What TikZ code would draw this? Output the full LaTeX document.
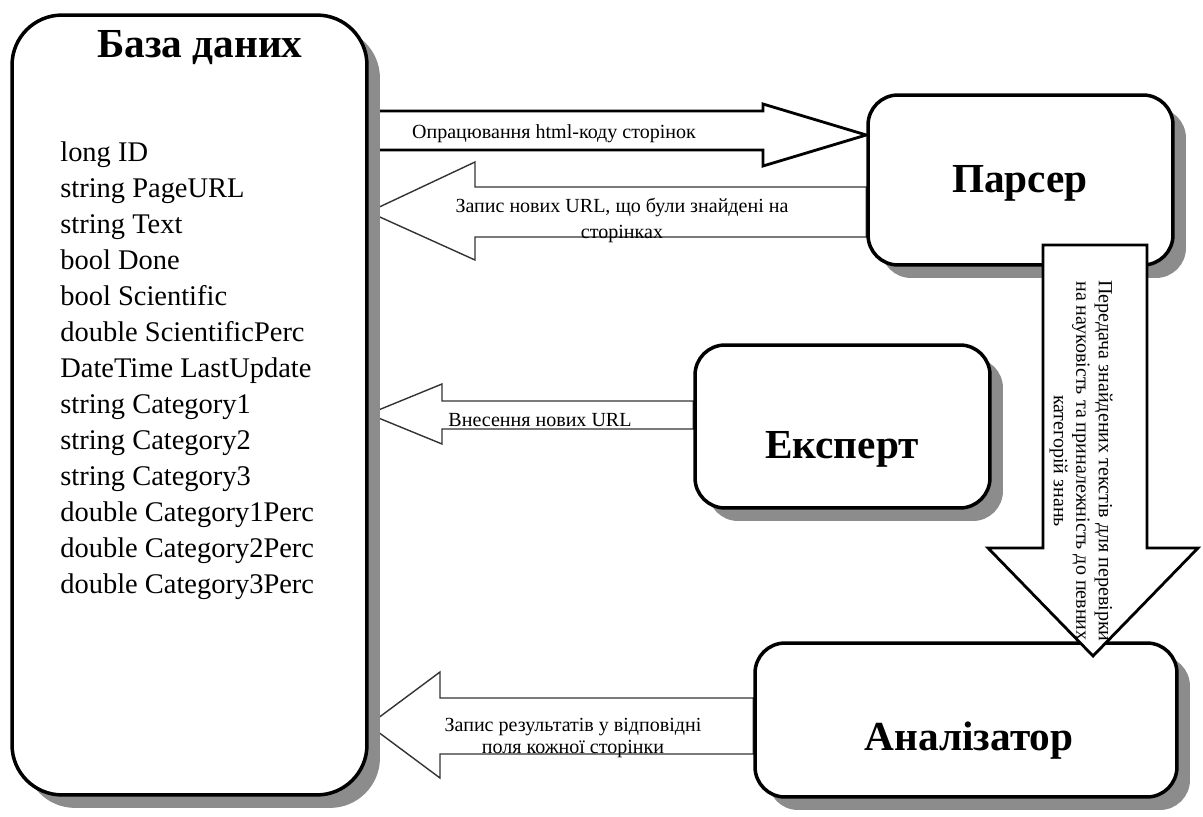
\documentclass[tikz,border=0pt]{standalone}
\usepackage{fontspec}
\setmainfont{Liberation Serif}
\usepackage{tikz}
\usetikzlibrary{backgrounds,shadows}

\tikzset{
  block/.style={draw, line width=2pt, fill=white, inner sep=0pt,
    drop shadow={shadow xshift=0.26cm, shadow yshift=-0.26cm, fill=black!45, opacity=1}},
  title/.style={font=\fontsize{23.5}{28}\selectfont\bfseries, inner sep=0pt},
  fields/.style={font=\fontsize{16.2}{20.5}\selectfont, align=left, inner sep=0pt},
  lbl/.style={font=\fontsize{11.4}{12.8}\selectfont, align=center, inner sep=0pt},
  fatarrow/.style={draw, line width=1.6pt, fill=white},
  thinarrow/.style={draw=black!80, line width=0.8pt, fill=white},
}

\begin{document}
\begin{tikzpicture}[x=0.02cm, y=-0.02cm]
\useasboundingbox (0,0) rectangle (1203,817);

% boxes
\node[block, rounded corners=1cm, minimum width=7.1cm, minimum height=15.6cm] (db) at (189.5,405) {};
\node[block, rounded corners=0.6cm, minimum width=6.1cm, minimum height=3.4cm] (parser) at (1020.5,180) {};
\node[block, rounded corners=0.6cm, minimum width=5.9cm, minimum height=3.26cm] (expert) at (842.5,426.5) {};
\node[block, rounded corners=0.6cm, minimum width=8.44cm, minimum height=3.08cm] (analyzer) at (966,720) {};

\node[title, anchor=base] (dbtitle) at (200,58) {База даних};
\node[title, anchor=base] (parsertitle) at (1020,193) {Парсер};
\node[title, anchor=base] (experttitle) at (842,458) {Експерт};
\node[title, anchor=base] (analyzertitle) at (969,750) {Аналізатор};

\node[fields, anchor=north west] (fields) at (60,141) {long ID\\string PageURL\\string Text\\bool Done\\bool Scientific\\double ScientificPerc\\DateTime LastUpdate\\string Category1\\string Category2\\string Category3\\double Category1Perc\\double Category2Perc\\double Category3Perc};

% arrows behind the boxes
\begin{scope}[on background layer]
\draw[fatarrow] (db.east |- 0,111) -- (763,111) -- (763,104) -- (parser.west |- 0,135) -- (763,166) -- (763,150) -- (db.east |- 0,150) -- cycle;
\draw[thinarrow] (parser.west |- 0,187) -- (475,187) -- (475,162) -- (db.east |- 0,212) -- (475,260) -- (475,237) -- (parser.west |- 0,237) -- cycle;
\draw[thinarrow] (expert.west |- 0,401) -- (442,401) -- (442,384) -- (db.east |- 0,414) -- (442,444) -- (442,429) -- (expert.west |- 0,429) -- cycle;
\draw[thinarrow] (analyzer.west |- 0,698) -- (440,698) -- (440,672) -- (db.east |- 0,725) -- (440,778) -- (440,754) -- (analyzer.west |- 0,754) -- cycle;
\end{scope}

% parser -> analyzer
\draw[fatarrow] (1043,245) -- (1043,548) -- (988,548) -- (1093,656) -- (1198,548) -- (1147,548) -- (1147,245) -- cycle;

\node[lbl] (lblA) at (554,134) {Опрацювання html-коду сторінок};
\node[lbl] (lblB) at (622,220) {Запис нових URL, що були знайдені на\\[2pt]сторінках};
\node[lbl] (lblC) at (540,420) {Внесення нових URL};
\node[lbl] (lblD) at (573,738) {Запис результатів у відповідні\\поля кожної сторінки};
\node[lbl, rotate=-90] (lblE) at (1081,461) {Передача знайдених текстів для перевірки\\на науковість та приналежність до певних\\категорій знань};
\end{tikzpicture}
\end{document}
